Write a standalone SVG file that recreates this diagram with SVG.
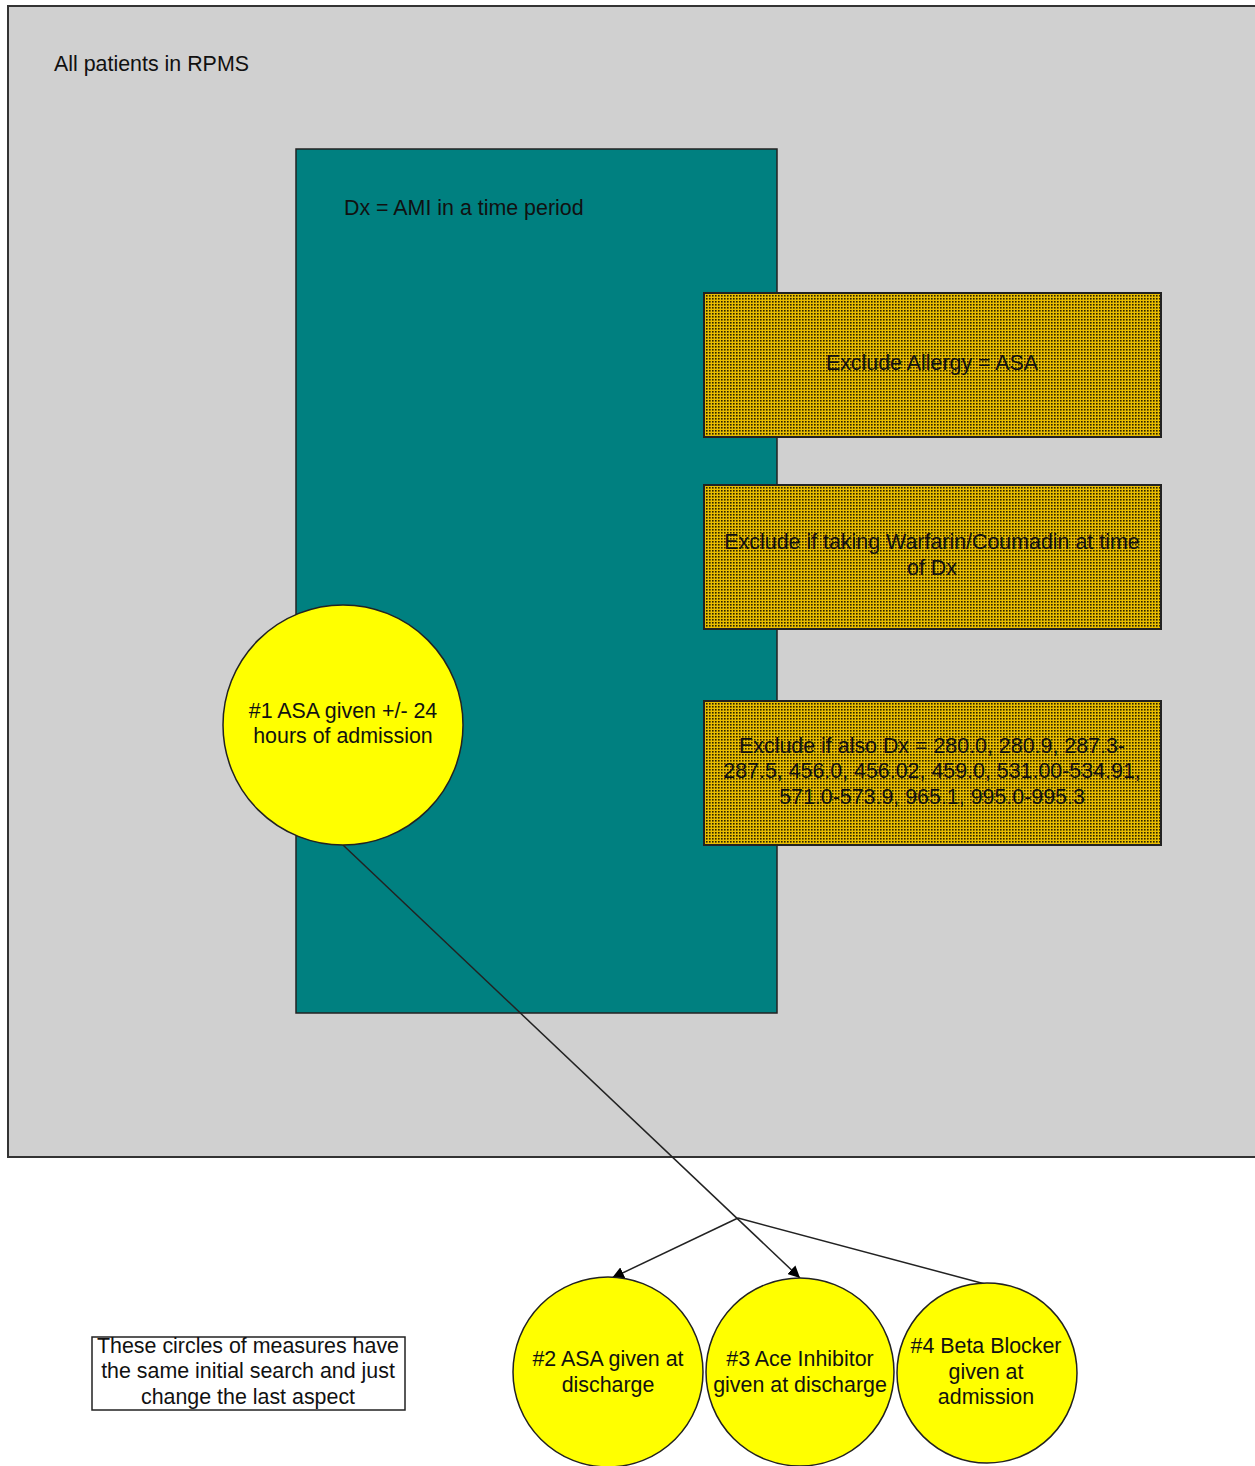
<svg xmlns="http://www.w3.org/2000/svg" width="1255" height="1466" viewBox="0 0 1255 1466">
<style>
text{font-family:"Liberation Sans",Arial,sans-serif;font-size:21.4px;fill:#111}
.c{text-anchor:middle}
.circ{fill:#ffff00;stroke:#222;stroke-width:1.5}
.ex{fill:url(#dots);stroke:#222;stroke-width:2}
.conn{stroke:#222;stroke-width:1.5;fill:none}
</style>
<defs>
<pattern id="dots" width="3" height="3" patternUnits="userSpaceOnUse">
<rect width="3" height="3" fill="#e8bc00"/>
<rect x="1" y="1" width="1.6" height="1.6" fill="#2a2200"/>
</pattern>
<marker id="arr" viewBox="0 0 10 10" refX="10" refY="5" markerWidth="12" markerHeight="12" markerUnits="userSpaceOnUse" orient="auto">
<path d="M0,0 L10,5 L0,10 z" fill="#000"/>
</marker>
</defs>
<rect width="1255" height="1466" fill="#fff"/>
<g id="all-patients">
<rect x="8" y="6" width="1250" height="1151" fill="#d0d0d0" stroke="#333" stroke-width="2"/>
<text x="54" y="71">All patients in RPMS</text>
</g>
<g id="dx-ami">
<rect x="296" y="149" width="481" height="864" fill="#008080" stroke="#222" stroke-width="1.5"/>
<text x="344" y="215">Dx = AMI in a time period</text>
</g>
<g id="exclude-allergy">
<rect class="ex" x="704" y="293" width="457" height="144"/>
<text class="c" x="932" y="370">Exclude Allergy = ASA</text>
</g>
<g id="exclude-warfarin">
<rect class="ex" x="704" y="485" width="457" height="144"/>
<text class="c" x="932" y="549">Exclude if taking Warfarin/Coumadin at time</text>
<text class="c" x="932" y="575">of Dx</text>
</g>
<g id="exclude-dx">
<rect class="ex" x="704" y="701" width="457" height="144"/>
<text class="c" x="932" y="753">Exclude if also Dx = 280.0, 280.9, 287.3-</text>
<text class="c" x="932" y="778">287.5, 456.0, 456.02, 459.0, 531.00-534.91,</text>
<text class="c" x="932" y="804">571.0-573.9, 965.1, 995.0-995.3</text>
</g>
<g id="connectors">
<line class="conn" x1="343" y1="845" x2="800" y2="1278" marker-end="url(#arr)"/>
<line class="conn" x1="738" y1="1218" x2="612" y2="1278" marker-end="url(#arr)"/>
<line class="conn" x1="738" y1="1218" x2="985" y2="1284"/>
</g>
<g id="m1">
<circle class="circ" cx="343" cy="725" r="120"/>
<text class="c" x="343" y="718">#1 ASA given +/- 24</text>
<text class="c" x="343" y="743">hours of admission</text>
</g>
<g id="m2">
<circle class="circ" cx="608" cy="1372" r="95"/>
<text class="c" x="608" y="1366">#2 ASA given at</text>
<text class="c" x="608" y="1392">discharge</text>
</g>
<g id="m3">
<circle class="circ" cx="800" cy="1372" r="94"/>
<text class="c" x="800" y="1366">#3 Ace Inhibitor</text>
<text class="c" x="800" y="1392">given at discharge</text>
</g>
<g id="m4">
<circle class="circ" cx="987" cy="1373" r="90"/>
<text class="c" x="986" y="1353">#4 Beta Blocker</text>
<text class="c" x="986" y="1379">given at</text>
<text class="c" x="986" y="1404">admission</text>
</g>
<g id="note">
<rect x="92" y="1337" width="313" height="73" fill="#fff" stroke="#222" stroke-width="1.5"/>
<text class="c" x="248" y="1353">These circles of measures have</text>
<text class="c" x="248" y="1378">the same initial search and just</text>
<text class="c" x="248" y="1404">change the last aspect</text>
</g>
</svg>
